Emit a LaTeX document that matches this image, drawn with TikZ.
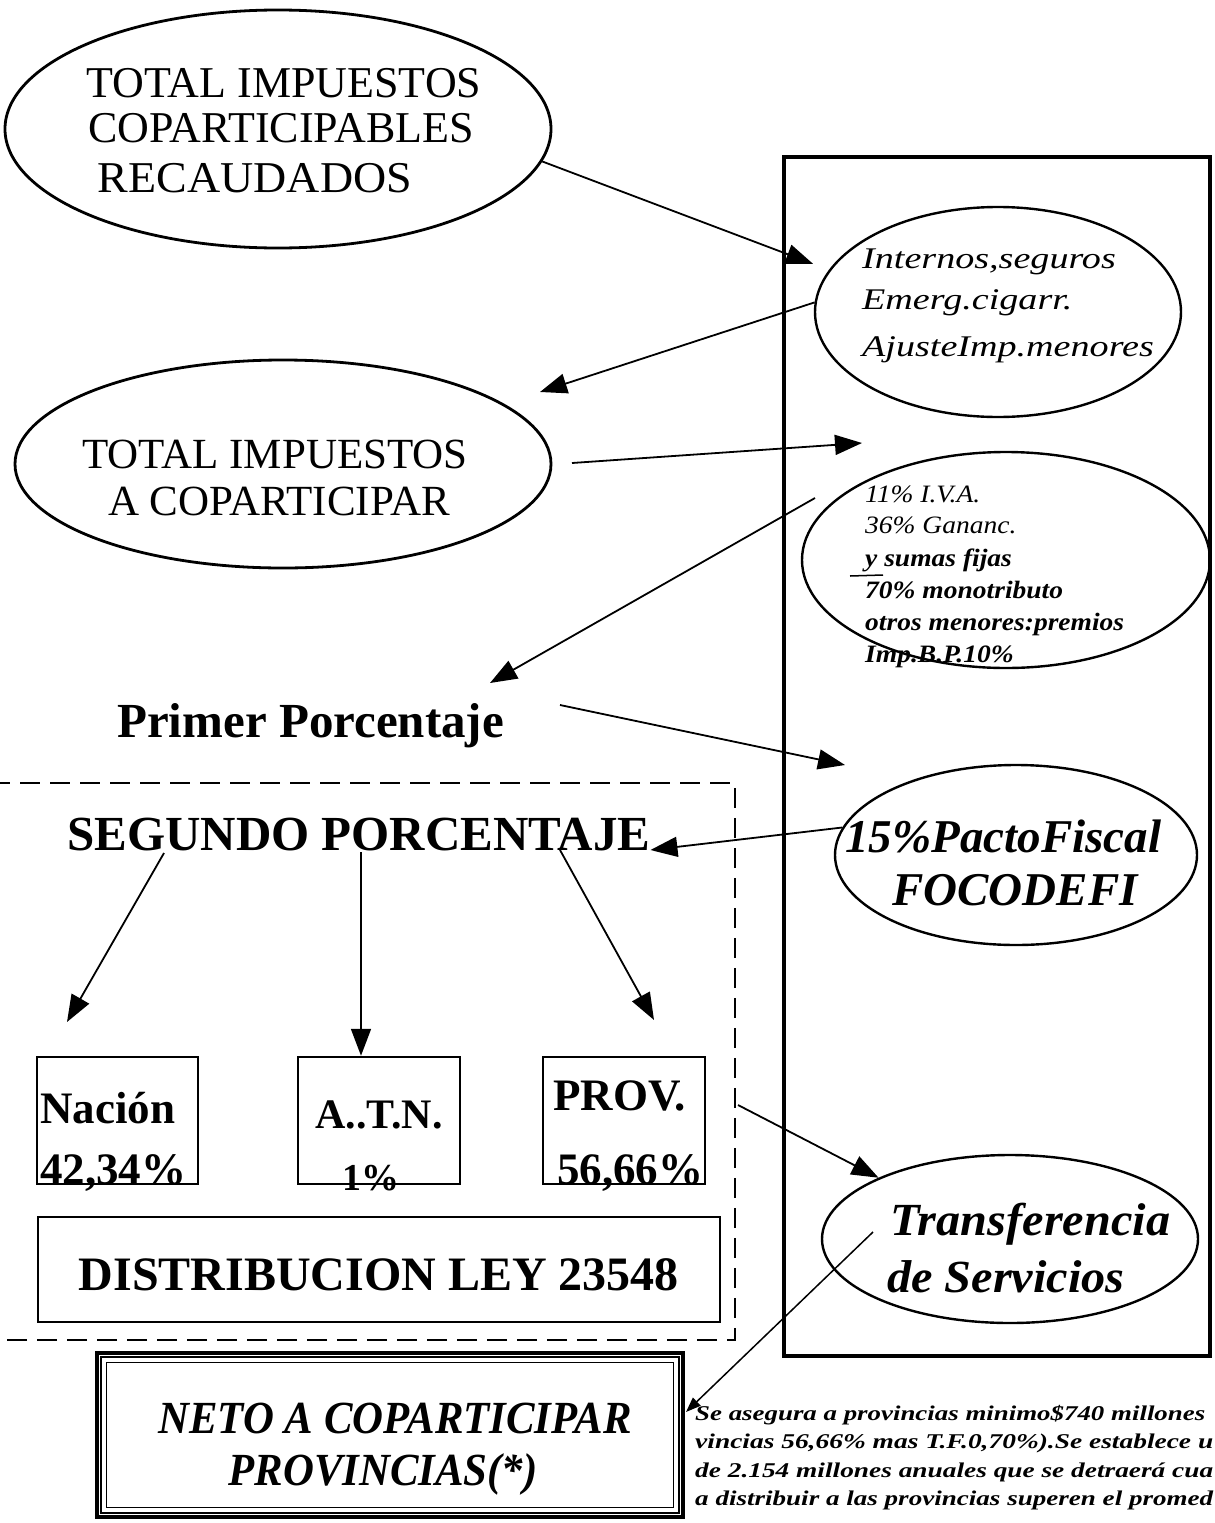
\documentclass[tikz,border=0pt]{standalone}
\usepackage{fontspec}
\setmainfont{Liberation Serif}
\usepackage{graphicx}
\usetikzlibrary{arrows.meta,shapes.geometric}
\newcommand\myfs[1]{\fontsize{#1pt}{#1pt}\selectfont}
\begin{document}
\begin{tikzpicture}[x=1pt,y=-1pt,
  ell/.style={ellipse,draw,inner sep=0pt,line width=2.4pt},
  boxframe/.style={rectangle,draw,inner sep=0pt,line width=2.5pt},
  lbl/.style={inner sep=0pt,anchor=base west},
  lblc/.style={inner sep=0pt,anchor=base},
  arr/.style={line width=1.8pt,-{Triangle[length=27pt,width=20pt]}},
  arrs/.style={line width=1.5pt,-{Triangle[length=15pt,width=11pt]}}
]
\useasboundingbox (0,0) rectangle (1215,1523);
\clip (0,0) rectangle (1215,1523);

% ---- ellipses
\node[ell,line width=2.8pt,minimum width=546pt,minimum height=238pt] (e1) at (278,129) {};
\node[ell,line width=2.8pt,minimum width=536pt,minimum height=208pt] (e2) at (283,464) {};
\node[ell,minimum width=366pt,minimum height=210pt] (int) at (998,312) {};
\node[ell,minimum width=408pt,minimum height=216pt] (e3) at (1006,560) {};
\node[ell,minimum width=362pt,minimum height=180pt] (fpf) at (1016,855) {};
\node[ell,minimum width=376pt,minimum height=168pt] (tr) at (1010,1239) {};

% ---- big right frame
\node[boxframe,line width=3.5pt,minimum width=426pt,minimum height=1199pt] (rb) at (997,756.5) {};

% ---- dashed frame (left side off the page)
\coordinate (dtl) at (-10,783);
\coordinate (dtr) at (735,783);
\coordinate (dbr) at (735,1340);
\coordinate (dbl) at (-10,1340);
\draw[line width=2pt,dash pattern=on 20pt off 10pt] (dtl) -- (dtr) -- (dbr) -- (dbl);

% ---- boxes
\node[boxframe,minimum width=161pt,minimum height=127pt] (nac) at (117.5,1120.5) {};
\node[boxframe,minimum width=162pt,minimum height=127pt] (atn) at (379,1120.5) {};
\node[boxframe,minimum width=162pt,minimum height=127pt] (prov) at (624,1120.5) {};
\node[boxframe,line width=2pt,minimum width=682pt,minimum height=105pt] (dist) at (379,1269.5) {};
\node[boxframe,line width=3.5pt,minimum width=586pt,minimum height=164pt] (neto) at (390,1435) {};
\draw[line width=1.6pt] ([shift={(6,6)}]neto.north west) rectangle ([shift={(-6,-6)}]neto.south east);
\draw[line width=1.2pt] ([shift={(11,11)}]neto.north west) rectangle ([shift={(-11,-11)}]neto.south east);

% ---- texts
\node[lblc] (t1a) at (284,97) {\myfs{44}TOTAL IMPUESTOS};
\node[lblc] (t1b) at (281,142) {\myfs{44}COPARTICIPABLES};
\node[lblc] (t1c) at (255,192) {\myfs{44}\resizebox{314pt}{\height}{RECAUDADOS}};

\node[lblc] (t2a) at (275,468) {\myfs{43}TOTAL IMPUESTOS};
\node[lblc] (t2b) at (279,515) {\myfs{43}A COPARTICIPAR};

\node[lbl] (ia) at (862,268) {\myfs{30}\itshape\scalebox{1.27}[1]{Internos,seguros}};
\node[lbl] (ib) at (862,309) {\myfs{30}\itshape\scalebox{1.27}[1]{Emerg.cigarr.}};
\node[lbl] (ic) at (862,356) {\myfs{30}\itshape\scalebox{1.27}[1]{AjusteImp.menores}};

\node[lbl] (ea) at (865,502) {\myfs{25}\itshape\scalebox{1.1}[1]{11\% I.V.A.}};
\node[lbl] (eb) at (865,533) {\myfs{25}\itshape\scalebox{1.1}[1]{36\% Gananc.}};
\node[lbl] (ec) at (865,566) {\myfs{25}\bfseries\itshape\scalebox{1.1}[1]{y sumas fijas}};
\node[lbl] (ed) at (865,598) {\myfs{25}\bfseries\itshape\scalebox{1.1}[1]{70\% monotributo}};
\node[lbl] (ee) at (865,630) {\myfs{25}\bfseries\itshape\scalebox{1.1}[1]{otros menores:premios}};
\node[lbl] (ef) at (865,662) {\myfs{25}\bfseries\itshape\scalebox{1.1}[1]{Imp.B.P.10\%}};
\draw[line width=1.5pt] (850,576) -- (883,575);

\node[lbl] (pp) at (117,737) {\myfs{49}\bfseries Primer Porcentaje};
\node[lbl] (seg) at (67,850) {\myfs{49}\bfseries SEGUNDO PORCENTAJE};

\node[lbl] (fa) at (845,852) {\myfs{47}\bfseries\itshape 15\%PactoFiscal};
\node[lbl] (fb) at (892,905) {\myfs{47}\bfseries\itshape FOCODEFI};

\node[lbl] (na) at (40,1123) {\myfs{45}\bfseries Nación};
\node[lbl] (nb) at (40,1184) {\myfs{45}\bfseries 42,34\%};
\node[lbl] (aa) at (315,1128) {\myfs{42}\bfseries A..T.N.};
\node[lbl] (ab) at (342,1190) {\myfs{38}\bfseries 1\%};
\node[lbl] (pa) at (553,1110) {\myfs{45}\bfseries PROV.};
\node[lbl] (pb) at (557,1184) {\myfs{45}\bfseries 56,66\%};

\node[lblc] (dt) at (379,1290) {\myfs{48}\bfseries DISTRIBUCION LEY 23548};

\node[lbl] (ta) at (890,1235) {\myfs{46}\bfseries\itshape\scalebox{1.05}[1]{Transferencia}};
\node[lbl] (tb) at (887,1292) {\myfs{46}\bfseries\itshape\scalebox{1.05}[1]{de Servicios}};

\node[lblc] (nt1) at (395,1433) {\myfs{46}\bfseries\itshape\scalebox{0.93}[1]{NETO A COPARTICIPAR}};
\node[lblc] (nt2) at (383,1485) {\myfs{46}\bfseries\itshape\scalebox{0.93}[1]{PROVINCIAS(*)}};

\node[lbl] (n1) at (695,1420) {\myfs{21}\bfseries\itshape\resizebox{510pt}{\height}{Se asegura a provincias minimo\$740 millones}};
\node[lbl] (n2) at (695,1448) {\myfs{21}\bfseries\itshape\resizebox{518pt}{\height}{vincias 56,66\% mas T.F.0,70\%).Se establece u}};
\node[lbl] (n3) at (695,1477) {\myfs{21}\bfseries\itshape\resizebox{518pt}{\height}{de 2.154 millones anuales que se detraerá cua}};
\node[lbl] (n4) at (695,1505) {\myfs{21}\bfseries\itshape\resizebox{518pt}{\height}{a distribuir a las provincias superen el promed}};

% ---- arrow end points
\coordinate (c2) at (540,392);
\coordinate (c3s) at (572,463);
\coordinate (c3e) at (862,443);
\coordinate (c4s) at (815,498);
\coordinate (c4e) at (490,683);
\coordinate (c5s) at (560,705);
\coordinate (c5e) at (845,765);
\coordinate (c7s) at (164,853);
\coordinate (c7e) at (67,1022);
\coordinate (c8s) at (361,852);
\coordinate (c9s) at (560,850);
\coordinate (c9e) at (654,1020);
\coordinate (c10s) at (738,1105);
\coordinate (c11s) at (873,1232);
\coordinate (c11e) at (686,1412);

% ---- arrows
\draw[arr,shorten >=17pt] (e1.-7.6) -- (int.166);
\draw[arr] (int.177) -- (c2);
\draw[arr] (c3s) -- (c3e);
\draw[arr] (c4s) -- (c4e);
\draw[arr] (c5s) -- (c5e);
\draw[arr] (fpf.171) -- (seg.base east);
\draw[arr] (c7s) -- (c7e);
\draw[arr] (c8s) -- (c8s |- atn.north);
\draw[arr] (c9s) -- (c9e);
\draw[arr] (c10s) -- (tr.155);
\draw[arrs] (c11s) -- (c11e);
\end{tikzpicture}
\end{document}
